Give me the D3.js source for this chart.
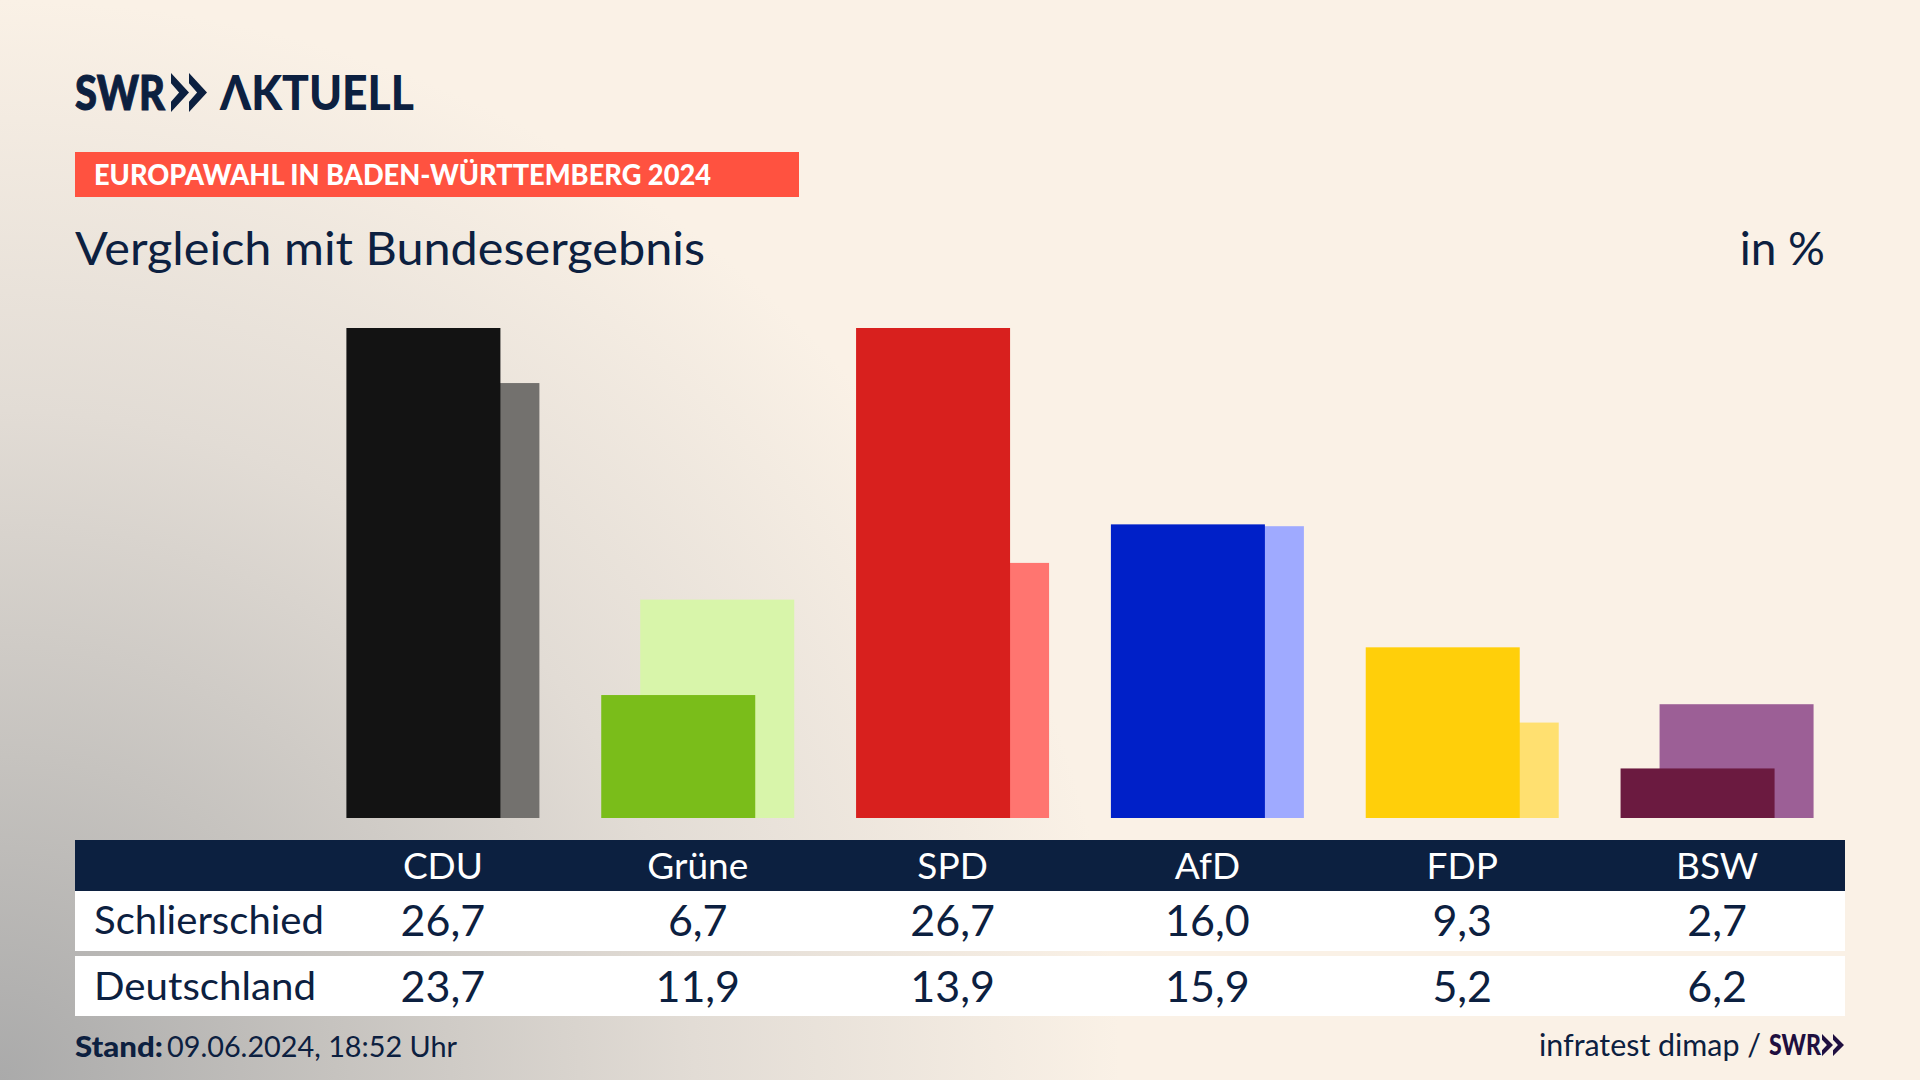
<!DOCTYPE html>
<html>
<head>
<meta charset="utf-8">
<script src="https://cdn.jsdelivr.net/npm/d3@7"></script>
<style>
  html, body { margin: 0; padding: 0; background: #faf1e6; }
  svg { display: block; }
  text { font-family: Lato, "Noto Sans", sans-serif; }
</style>
</head>
<body>
<div id="chart"></div>
<script>
const parties = ["CDU", "Grüne", "SPD", "AfD", "FDP", "BSW"];
const localValues = [26.7, 6.7, 26.7, 16.0, 9.3, 2.7];
const federalValues = [23.7, 11.9, 13.9, 15.9, 5.2, 6.2];
const rowLabels = ["Schlierschied", "Deutschland"];
const darkColors = ["#131313", "#7abd1a", "#d8201e", "#0020c8", "#ffcf0a", "#6b1a40"];
const lightColors = ["#73716e", "#d8f5aa", "#ff7570", "#9faaff", "#ffe070", "#9c5f96"];

const width = 1920;
const height = 1080;
const navy = "#0c2040";
const baseline = 818;
const barWidth = 154;
const barOffset = 39;

const svg = d3.select("#chart")
    .append("svg")
    .attr("width", width)
    .attr("height", height);

// background: cream with a grey glow out of the lower left corner
const grad = svg.append("defs")
    .append("radialGradient")
    .attr("id", "bg")
    .attr("gradientUnits", "userSpaceOnUse")
    .attr("cx", 0)
    .attr("cy", 0)
    .attr("r", 1)
    .attr("gradientTransform", `translate(0, 1080) scale(1120, 1080)`);
grad.append("stop").attr("offset", 0).attr("stop-color", "#aaaaaa");
grad.append("stop").attr("offset", 0.3).attr("stop-color", "#c6c3bf");
grad.append("stop").attr("offset", 0.62).attr("stop-color", "#e2dcd5");
grad.append("stop").attr("offset", 1).attr("stop-color", "#faf1e6");

svg.append("rect")
    .attr("width", width)
    .attr("height", height)
    .attr("fill", "#faf1e6");
svg.append("rect")
    .attr("width", width)
    .attr("height", height)
    .attr("fill", "url(#bg)");

const xScale = d3.scaleBand()
    .domain(parties)
    .range([315.5, 1844.5])
    .paddingInner(1 - (barWidth + barOffset) / 254.8)
    .paddingOuter((1 - (barWidth + barOffset) / 254.8) / 2);

const yScale = d3.scaleLinear()
    .domain([0, 26.7])
    .range([baseline, 328]);

const fmt = d3.formatLocale({ decimal: ",", thousands: ".", grouping: [3], currency: ["", ""] }).format(".1f");

// bars, federal result behind the local one
svg.append("g")
    .selectAll("rect")
    .data(parties)
    .join("rect")
    .attr("x", d => xScale(d) + barOffset)
    .attr("y", (d, i) => yScale(federalValues[i]))
    .attr("width", barWidth)
    .attr("height", (d, i) => baseline - yScale(federalValues[i]))
    .attr("fill", (d, i) => lightColors[i]);

svg.append("g")
    .selectAll("rect")
    .data(parties)
    .join("rect")
    .attr("x", d => xScale(d))
    .attr("y", (d, i) => yScale(localValues[i]))
    .attr("width", barWidth)
    .attr("height", (d, i) => baseline - yScale(localValues[i]))
    .attr("fill", (d, i) => darkColors[i]);

// table
svg.append("rect").attr("x", 75).attr("y", 840).attr("width", 1770).attr("height", 51).attr("fill", navy);
svg.append("rect").attr("x", 75).attr("y", 891).attr("width", 1770).attr("height", 60).attr("fill", "#fff");
svg.append("rect").attr("x", 75).attr("y", 956).attr("width", 1770).attr("height", 60).attr("fill", "#fff");

const colCenter = d => xScale(d) + xScale.bandwidth() / 2;

svg.append("g")
    .selectAll("text")
    .data(parties)
    .join("text")
    .attr("x", colCenter)
    .attr("y", 879)
    .attr("text-anchor", "middle")
    .attr("font-size", 37)
    .attr("fill", "#fff")
    .text(d => d);

[localValues, federalValues].forEach((values, r) => {
    svg.append("text")
        .attr("x", 94)
        .attr("y", r === 0 ? 934 : 1000)
        .attr("font-size", 39)
        .attr("fill", navy)
        .attr("textLength", r === 0 ? 230 : 222)
        .attr("lengthAdjust", "spacingAndGlyphs")
        .text(rowLabels[r]);

    svg.append("g")
        .selectAll("text")
        .data(parties)
        .join("text")
        .attr("x", colCenter)
        .attr("y", r === 0 ? 936 : 1002)
        .attr("text-anchor", "middle")
        .attr("font-size", 43)
        .attr("fill", navy)
        .text((d, i) => fmt(values[i]));
});

// header
function chevrons(x, y, w, h, fill) {
    const cw = w / 2;
    const mid = y + h / 2;
    [0, cw].forEach(dx => {
        const left = x + dx;
        svg.append("path")
            .attr("d", `M${left},${y} L${left + cw},${mid} L${left},${y + h} L${left},${y + h * 0.74} L${left + cw * 0.45},${mid} L${left},${y + h * 0.26} Z`)
            .attr("fill", fill);
    });
}

svg.append("text")
    .attr("x", 75).attr("y", 110)
    .attr("font-size", 48).attr("font-weight", 900).attr("fill", navy)
    .attr("stroke", navy).attr("stroke-width", 1)
    .attr("textLength", 90).attr("lengthAdjust", "spacingAndGlyphs")
    .text("SWR");
chevrons(171, 73, 36, 39, navy);
svg.append("text")
    .attr("x", 220).attr("y", 110)
    .attr("font-size", 48).attr("font-weight", 900).attr("fill", navy)
    .attr("textLength", 194).attr("lengthAdjust", "spacingAndGlyphs")
    .text("ΛKTUELL");

svg.append("rect").attr("x", 75).attr("y", 152).attr("width", 724).attr("height", 45).attr("fill", "#ff5240");
svg.append("text")
    .attr("x", 94).attr("y", 185)
    .attr("font-size", 28).attr("font-weight", 900).attr("fill", "#fff")
    .attr("textLength", 617).attr("lengthAdjust", "spacingAndGlyphs")
    .text("EUROPAWAHL IN BADEN-WÜRTTEMBERG 2024");

svg.append("text")
    .attr("x", 75).attr("y", 265)
    .attr("font-size", 46).attr("fill", navy)
    .attr("textLength", 630).attr("lengthAdjust", "spacingAndGlyphs")
    .text("Vergleich mit Bundesergebnis");

svg.append("text")
    .attr("x", 1825).attr("y", 265)
    .attr("text-anchor", "end")
    .attr("font-size", 46).attr("fill", navy)
    .text("in %");

// footer
svg.append("text")
    .attr("x", 75).attr("y", 1057)
    .attr("font-size", 29).attr("font-weight", 900).attr("fill", navy)
    .attr("textLength", 88).attr("lengthAdjust", "spacingAndGlyphs")
    .text("Stand:");
svg.append("text")
    .attr("x", 167).attr("y", 1057)
    .attr("font-size", 29).attr("fill", navy)
    .attr("textLength", 290).attr("lengthAdjust", "spacingAndGlyphs")
    .text("09.06.2024, 18:52 Uhr");

svg.append("text")
    .attr("x", 1539).attr("y", 1056)
    .attr("font-size", 31).attr("fill", navy)
    .attr("textLength", 222).attr("lengthAdjust", "spacingAndGlyphs")
    .text("infratest dimap /");
svg.append("text")
    .attr("x", 1769).attr("y", 1055)
    .attr("font-size", 28).attr("font-weight", 900).attr("fill", "#1f0f40")
    .attr("textLength", 52).attr("lengthAdjust", "spacingAndGlyphs")
    .text("SWR");
chevrons(1822, 1034, 22, 22, "#1f0f40");
</script>
</body>
</html>
